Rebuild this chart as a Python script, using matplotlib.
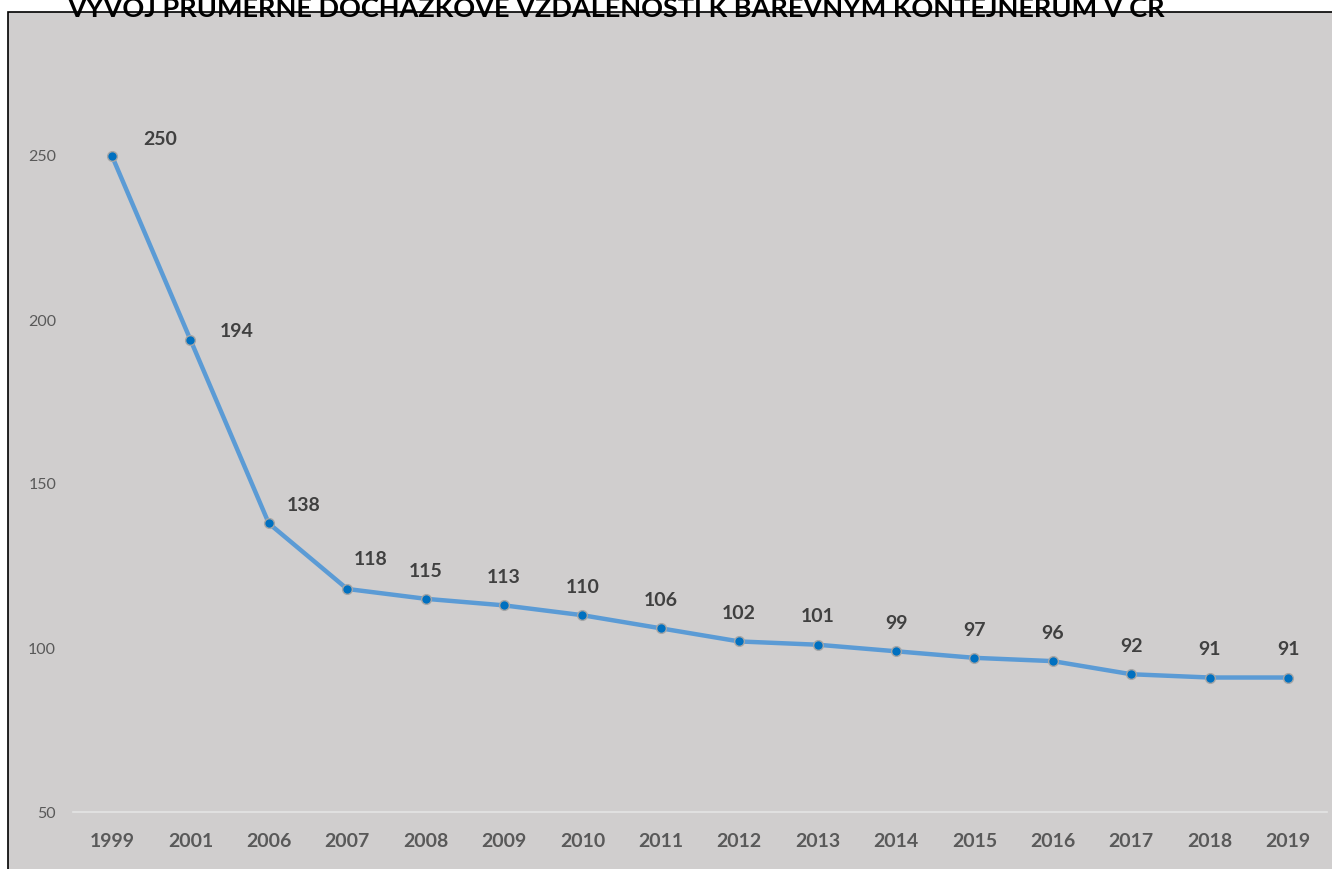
import matplotlib.pyplot as plt
from matplotlib.patches import Rectangle

# data
years = ['1999', '2001', '2006', '2007', '2008', '2009', '2010', '2011',
         '2012', '2013', '2014', '2015', '2016', '2017', '2018', '2019']
values = [250, 194, 138, 118, 115, 113, 110, 106, 102, 101, 99, 97, 96, 92, 91, 91]
y_ticks = [50, 100, 150, 200, 250]
title = 'VÝVOJ PRŮMĚRNÉ DOCHÁZKOVÉ VZDÁLENOSTI K BAREVNÝM KONTEJNERŮM V ČR'

# label offsets in points (first few were moved by hand in the original)
label_offsets = [(35, 12), (33, 6), (25, 13), (17, 21)] + [(0, 20)] * 12

plt.rcParams['font.family'] = ['Lato', 'DejaVu Sans']

W, H = 1332, 869
fig = plt.figure(figsize=(W / 100, H / 100), dpi=100)
fig.patch.set_facecolor('white')

# gray chart area with black border (only left + top visible, rest is cut off)
bg = Rectangle((8 / W, -0.05), 1.0, 1.05 - 12 / H, transform=fig.transFigure,
               facecolor='#D0CECE', edgecolor='black', linewidth=1.2, zorder=-10)
fig.patches.append(bg)

fig.text(616 / W, 1 - 17 / H, title, ha='center', va='baseline',
         fontsize=19.5, fontweight='bold', color='black')

left, right = 72.8, 1327.2
bottom, top = 812, 12
ax = fig.add_axes([left / W, 1 - bottom / H, (right - left) / W, (bottom - top) / H])
ax.set_facecolor('none')
ax.set_zorder(5)

x = list(range(len(years)))
ax.plot(x, values, color='#5B9BD5', linewidth=3.2, zorder=3,
        marker='o', markersize=7, markerfacecolor='#0070C0',
        markeredgecolor='#A6A6A6', markeredgewidth=1.0)

for i, v in enumerate(values):
    ax.annotate(str(v), (i, v), xytext=label_offsets[i], textcoords='offset points',
                ha='center', va='center', fontsize=14, fontweight='bold', color='#404040')

ax.set_xlim(-0.5, len(years) - 0.5)
ax.set_ylim(50, 50 + (bottom - top) / 3.28)
ax.set_xticks(x)
ax.set_xticklabels(years, fontsize=14, fontweight='bold', color='#595959')
ax.set_yticks(y_ticks)
ax.set_yticklabels([str(t) for t in y_ticks], fontsize=11.5, color='#595959')
ax.tick_params(axis='both', length=0)
ax.tick_params(axis='x', pad=15)
ax.tick_params(axis='y', pad=12)

for s in ['top', 'right', 'left']:
    ax.spines[s].set_visible(False)
ax.spines['bottom'].set_color('#E4E4E4')
ax.spines['bottom'].set_linewidth(1.2)

fig.savefig('out.png', dpi=100)
